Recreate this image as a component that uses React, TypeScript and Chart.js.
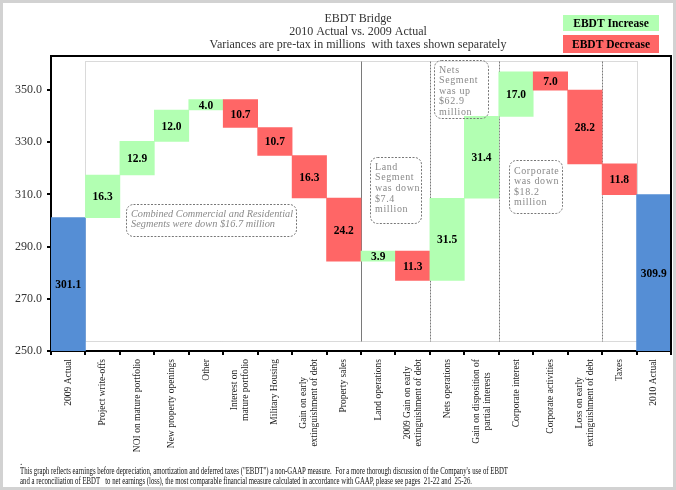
import React, { useEffect, useRef } from 'react';
import { Chart, registerables } from 'chart.js';

Chart.register(...registerables);

// ---------- data ----------
const categories: (string | string[])[] = [
  '2009 Actual',
  'Project write-offs',
  'NOI on mature portfolio',
  'New property openings',
  'Other',
  ['Interest on', 'mature portfolio'],
  'Military Housing',
  ['Gain on early', 'extinguishment of debt'],
  'Property sales',
  'Land operations',
  ['2009 Gain on early', 'extinguishment of debt'],
  'Nets operations',
  ['Gain on disposition of', 'partial interests'],
  'Corporate interest',
  'Corporate activities',
  ['Loss on early', 'extinguishment of debt'],
  'Taxes',
  '2010 Actual',
];
const startValue = 301.1;
const changes = [16.3, 12.9, 12.0, 4.0, -10.7, -10.7, -16.3, -24.2, 3.9, -11.3, 31.5, 31.4, 17.0, -7.0, -28.2, -11.8];
const endValue = 309.9;
const yTicks = [250, 270, 290, 310, 330, 350];
const yMin = 250;
const yMax = 363;

const titleLines = [
  'EBDT Bridge',
  '2010 Actual vs. 2009 Actual',
  'Variances are pre-tax in millions  with taxes shown separately',
];
const legendItems = ['EBDT Increase', 'EBDT Decrease'];
const footnoteLines = [
  'This graph reflects earnings before depreciation, amortization and deferred taxes ("EBDT") a non-GAAP measure.  For a more thorough discussion of the Company\'s use of EBDT',
  'and a reconciliation of EBDT   to net earnings (loss), the most comparable financial measure calculated in accordance with GAAP, please see pages  21-22 and  25-26.',
];
const noteCombined = ['Combined Commercial and Residential', 'Segments were down $16.7 million'];
const noteLand = ['Land', 'Segment', 'was down', '$7.4', 'million'];
const noteNets = ['Nets', 'Segment', 'was up', '$62.9', 'million'];
const noteCorporate = ['Corporate', 'was down', '$18.2', 'million'];

// ---------- styles ----------
const GREEN = '#B2FFB2';
const RED = '#FF6666';
const BLUE = '#558ED5';
const SERIF = '"Liberation Serif", "Times New Roman", serif';

// build waterfall ranges
const ranges: [number, number][] = [];
const kinds: string[] = [];
const labelsText: string[] = [];
{
  ranges.push([yMin, startValue]);
  kinds.push('total');
  labelsText.push(startValue.toFixed(1));
  let cur = startValue;
  changes.forEach((c) => {
    const next = Math.round((cur + c) * 10) / 10;
    ranges.push([Math.min(cur, next), Math.max(cur, next)]);
    kinds.push(c >= 0 ? 'up' : 'down');
    labelsText.push(Math.abs(c).toFixed(1));
    cur = next;
  });
  ranges.push([yMin, endValue]);
  kinds.push('total');
  labelsText.push(endValue.toFixed(1));
}
const colors = kinds.map((k) => (k === 'total' ? BLUE : k === 'up' ? GREEN : RED));

function fitText(ctx: CanvasRenderingContext2D, text: string, x: number, y: number, width: number) {
  const w = ctx.measureText(text).width;
  ctx.save();
  ctx.translate(x, y);
  ctx.scale(width / w, 1);
  ctx.textAlign = 'left';
  ctx.fillText(text, 0, 0);
  ctx.restore();
}

function noteBox(
  ctx: CanvasRenderingContext2D,
  x0: number, y0: number, x1: number, y1: number,
  lines: string[], tx: number, ty: number, lh: number, font: string, fitWidths?: number[]
) {
  ctx.save();
  ctx.strokeStyle = '#777';
  ctx.lineWidth = 1;
  ctx.setLineDash([2, 1.5]);
  ctx.beginPath();
  (ctx as any).roundRect(x0 + 0.5, y0 + 0.5, x1 - x0, y1 - y0, 7);
  ctx.stroke();
  ctx.setLineDash([]);
  ctx.fillStyle = '#8a8a8a';
  ctx.font = font;
  ctx.textBaseline = 'alphabetic';
  ctx.textAlign = 'left';
  lines.forEach((l, i) => {
    if (fitWidths) fitText(ctx, l, tx, ty + i * lh, fitWidths[i]);
    else {
      (ctx as any).letterSpacing = '0.6px';
      ctx.fillText(l, tx, ty + i * lh);
      (ctx as any).letterSpacing = '0px';
    }
  });
  ctx.restore();
}

const bridgePlugin = {
  id: 'bridge',
  beforeDraw(chart: any) {
    const ctx: CanvasRenderingContext2D = chart.ctx;
    ctx.save();
    ctx.fillStyle = '#fff';
    ctx.fillRect(0, 0, chart.width, chart.height);
    ctx.strokeStyle = '#d2d2d2';
    ctx.lineWidth = 3;
    ctx.strokeRect(1.5, 1.5, chart.width - 3, chart.height - 3);
    ctx.restore();
  },
  beforeDatasetsDraw(chart: any) {
    const ctx: CanvasRenderingContext2D = chart.ctx;
    const { x, y } = chart.scales;
    const half = (x.getPixelForValue(1) - x.getPixelForValue(0)) / 2;
    const b = (i: number) => Math.round(x.getPixelForValue(i) - half) + 0.5;
    const top = Math.round(y.getPixelForValue(361.1)) + 0.5;
    const bot = Math.round(y.getPixelForValue(253.7)) + 0.5;
    ctx.save();
    ctx.lineWidth = 1;
    // dotted region outline
    ctx.strokeStyle = '#b4b4b4';
    ctx.setLineDash([1, 1]);
    ctx.strokeRect(b(1), top, b(17) - b(1), bot - top);
    // section separators
    ctx.strokeStyle = '#7a7a7a';
    ctx.setLineDash([]);
    ctx.beginPath();
    ctx.moveTo(b(9), top);
    ctx.lineTo(b(9), bot);
    ctx.stroke();
    ctx.setLineDash([2, 1]);
    [11, 13, 16].forEach((i) => {
      ctx.beginPath();
      ctx.moveTo(b(i), top);
      ctx.lineTo(b(i), bot);
      ctx.stroke();
    });
    ctx.restore();
  },
  afterDatasetsDraw(chart: any) {
    const ctx: CanvasRenderingContext2D = chart.ctx;
    const x = chart.scales.x;
    const chartArea = chart.chartArea;
    const meta = chart.getDatasetMeta(0);
    ctx.save();
    // bar value labels
    ctx.font = `bold 11.5px ${SERIF}`;
    ctx.fillStyle = '#000';
    ctx.textAlign = 'center';
    ctx.textBaseline = 'middle';
    meta.data.forEach((el: any, i: number) => {
      ctx.fillText(labelsText[i], el.x, (el.y + el.base) / 2 + 1);
    });
    // chart area frame
    ctx.strokeStyle = '#000';
    ctx.lineWidth = 2;
    ctx.beginPath();
    ctx.moveTo(chartArea.left, chartArea.top);
    ctx.lineTo(chartArea.right, chartArea.top);
    ctx.lineTo(chartArea.right, chartArea.bottom);
    ctx.stroke();

    // notes
    noteBox(ctx, 126, 204, 296, 236, noteCombined, 131, 217, 10.2, `italic 10px ${SERIF}`, [162, 144]);
    noteBox(ctx, 370, 157, 421, 223, noteLand, 375, 169.5, 10.7, `10px ${SERIF}`);
    noteBox(ctx, 434, 60, 488, 118, noteNets, 439, 72.5, 10.6, `10px ${SERIF}`);
    noteBox(ctx, 509, 160, 562, 213, noteCorporate, 514, 173.5, 10.6, `10px ${SERIF}`);

    // x labels (rotated, lines centred on each other)
    ctx.font = `9.5px ${SERIF}`;
    ctx.fillStyle = '#1a1a1a';
    const labelTop = chartArea.bottom + 8;
    const lineH = 11;
    categories.forEach((lab, i) => {
      const lines = Array.isArray(lab) ? lab : [lab];
      const xc = x.getPixelForValue(i);
      const maxW = Math.max(...lines.map((l) => ctx.measureText(l).width));
      ctx.save();
      ctx.translate(xc, labelTop + maxW / 2);
      ctx.rotate(-Math.PI / 2);
      ctx.textAlign = 'center';
      ctx.textBaseline = 'middle';
      lines.forEach((l, j) => ctx.fillText(l, 0, (j - (lines.length - 1) / 2) * lineH));
      ctx.restore();
    });

    // title
    ctx.font = `12px ${SERIF}`;
    ctx.fillStyle = '#333';
    ctx.textAlign = 'center';
    ctx.textBaseline = 'alphabetic';
    titleLines.forEach((t, i) => ctx.fillText(t, 358, 22 + i * 13));

    // legend
    const legendColors = [GREEN, RED];
    const legendBoxes = [[563, 15, 96, 16], [563, 35, 96, 18]];
    ctx.font = `bold 11.5px ${SERIF}`;
    legendItems.forEach((t, i) => {
      const [lx, ly, lw, lh] = legendBoxes[i];
      ctx.fillStyle = legendColors[i];
      ctx.fillRect(lx, ly, lw, lh);
      ctx.fillStyle = '#000';
      ctx.textAlign = 'center';
      ctx.textBaseline = 'middle';
      ctx.fillText(t, lx + lw / 2, ly + lh / 2 + 1);
    });

    // footnote
    ctx.fillStyle = '#111';
    ctx.textBaseline = 'alphabetic';
    ctx.font = `9.5px ${SERIF}`;
    ctx.textAlign = 'left';
    ctx.fillText('.', 20, 465);
    fitText(ctx, footnoteLines[0], 20, 474, 488);
    fitText(ctx, footnoteLines[1], 20, 484, 452);
    ctx.restore();
  },
};

export default function App() {
  const ref = useRef<HTMLCanvasElement>(null);
  useEffect(() => {
    if (!ref.current) return;
    const chart = new Chart(ref.current, {
      type: 'bar',
      data: {
        labels: categories as any,
        datasets: [
          {
            data: ranges as any,
            backgroundColor: colors,
            borderWidth: 0,
            barPercentage: 1,
            categoryPercentage: 1,
          },
        ],
      },
      options: {
        responsive: false,
        animation: false,
        devicePixelRatio: 1,
        layout: { padding: { left: 0, top: 56, right: 5, bottom: 0 } },
        plugins: {
          legend: { display: false },
          tooltip: { enabled: false },
          title: { display: false },
        },
        scales: {
          x: {
            type: 'category',
            offset: true,
            grid: {
              display: true,
              drawOnChartArea: false,
              drawTicks: true,
              tickLength: 4,
              color: '#000',
              lineWidth: 2,
              offset: true,
            },
            border: { display: true, color: '#000', width: 2 },
            ticks: { display: false },
            afterFit: (s: any) => {
              s.height = 139;
            },
          },
          y: {
            min: yMin,
            max: yMax,
            afterBuildTicks: (s: any) => {
              s.ticks = yTicks.map((v) => ({ value: v }));
            },
            grid: { drawOnChartArea: false, drawTicks: true, tickLength: 4, color: '#000', lineWidth: 2 },
            border: { display: true, color: '#000', width: 2 },
            ticks: {
              callback: (v: any) => Number(v).toFixed(1),
              font: { family: SERIF, size: 12 },
              color: '#333',
              padding: 5,
            },
            afterFit: (s: any) => {
              s.width = 51;
            },
          },
        },
      } as any,
      plugins: [bridgePlugin as any],
    });
    return () => chart.destroy();
  }, []);
  return (
    <div style={{ position: 'absolute', left: 0, top: 0, width: 676, height: 490 }}>
      <canvas ref={ref} width={676} height={490} style={{ width: 676, height: 490, display: 'block' }} />
    </div>
  );
}
